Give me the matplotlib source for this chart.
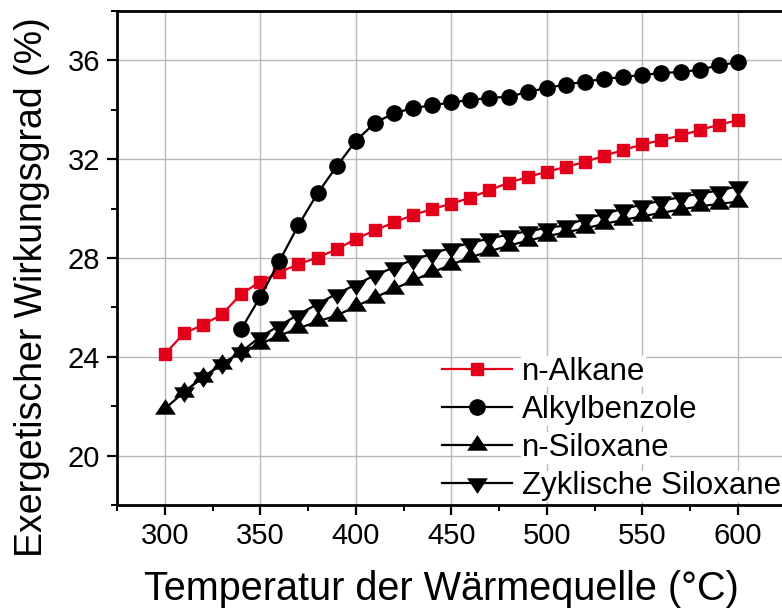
import numpy as np
import matplotlib
matplotlib.use("Agg")
from matplotlib import pyplot as plt
from matplotlib.ticker import MultipleLocator

plt.rcParams['font.family'] = ['Liberation Sans', 'DejaVu Sans']

# exergetic efficiency (%) over heat source temperature (°C)
temp = list(range(300, 601, 10))

alkane = [24.10, 24.95, 25.29, 25.72, 26.54, 27.04, 27.42, 27.75, 28.02, 28.35,
          28.77, 29.12, 29.44, 29.74, 29.98, 30.20, 30.44, 30.75, 31.04, 31.28,
          31.49, 31.69, 31.89, 32.14, 32.37, 32.60, 32.77, 32.96, 33.18, 33.39,
          33.58]

temp_benz = list(range(340, 601, 10))
benzole = [25.11, 26.43, 27.87, 29.33, 30.62, 31.71, 32.74, 33.47, 33.86, 34.07,
           34.18, 34.30, 34.40, 34.48, 34.53, 34.72, 34.89, 35.02, 35.14, 35.25,
           35.33, 35.41, 35.49, 35.53, 35.62, 35.80, 35.93]

siloxane_n = [21.89, 22.57, 23.17, 23.70, 24.20, 24.52, 24.86, 25.15, 25.43, 25.67,
              26.04, 26.40, 26.75, 27.09, 27.42, 27.73, 28.03, 28.27, 28.50, 28.70,
              28.88, 29.04, 29.20, 29.38, 29.54, 29.69, 29.83, 29.96, 30.09, 30.19,
              30.28]

temp_cyc = list(range(310, 601, 10))
siloxane_cyc = [22.57, 23.17, 23.70, 24.20, 24.81, 25.26, 25.71, 26.14, 26.55,
                26.92, 27.30, 27.62, 27.93, 28.17, 28.42, 28.61, 28.79, 28.95,
                29.08, 29.22, 29.32, 29.58, 29.79, 29.99, 30.16, 30.32, 30.46,
                30.61, 30.73, 30.90]

labels = ["n-Alkane", "Alkylbenzole", "n-Siloxane", "Zyklische Siloxane"]

# triangles centred on their centroid
tri_up = [(0, 1), (-1, -0.5), (1, -0.5), (0, 1)]
tri_down = [(0, -1), (-1, 0.5), (1, 0.5), (0, -1)]

red = '#e3001b'

fig = plt.figure(figsize=(7.82, 6.11), dpi=100)
ax = fig.add_axes([0.1496, 0.1735, 0.855, 0.8085])

ax.plot(temp, alkane, color=red, lw=1.6, marker='s', ms=9.2,
        mec=red, mfc=red, label=labels[0], zorder=3)
ax.plot(temp_benz, benzole, color='black', lw=1.6, marker='o', ms=11,
        label=labels[1], zorder=3)
ax.plot(temp, siloxane_n, color='black', lw=1.6, marker=tri_up, ms=15,
        mew=0, label=labels[2], zorder=3)
ax.plot(temp_cyc, siloxane_cyc, color='black', lw=1.6, marker=tri_down, ms=15,
        mew=0, label=labels[3], zorder=3)

ax.set_xlim(275, 625)
ax.set_ylim(18, 38)
ax.xaxis.set_major_locator(MultipleLocator(50))
ax.xaxis.set_minor_locator(MultipleLocator(25))
ax.yaxis.set_major_locator(MultipleLocator(4))
ax.yaxis.set_minor_locator(MultipleLocator(2))

ax.grid(True, which='major', color='#b8b8b8', lw=1.0)
ax.set_axisbelow(True)

for side in ['left', 'bottom', 'top', 'right']:
    ax.spines[side].set_linewidth(2.0)

ax.tick_params(axis='both', which='major', direction='out', length=7.2, width=1.6,
               labelsize=21, pad=5)
ax.tick_params(axis='both', which='minor', direction='out', length=4.3, width=1.4)

ax.set_xlabel("Temperatur der Wärmequelle (°C)", fontsize=28.5)
ax.xaxis.set_label_coords(0.486, -0.132)
ax.set_ylabel("Exergetischer Wirkungsgrad (%)", fontsize=27)
ax.yaxis.set_label_coords(-0.1, 0.441)

leg = ax.legend(loc='upper left', bbox_to_anchor=(0.486, 0.300), frameon=False,
                fontsize=22.5, handlelength=2.24, handletextpad=0.32,
                labelspacing=0.26, borderpad=0, borderaxespad=0)
for t in leg.get_texts():
    t.set_bbox(dict(fc='white', ec='none', pad=0.5))

fig.savefig("out.png", dpi=100)
